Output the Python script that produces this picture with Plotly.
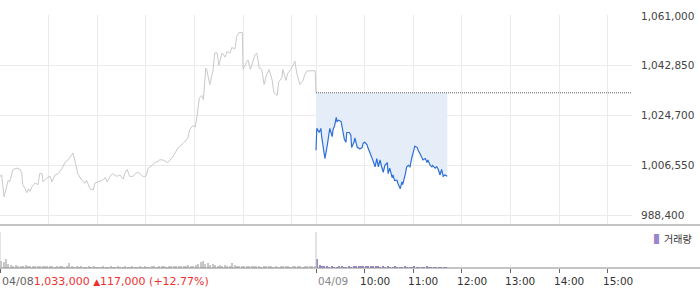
import plotly.graph_objects as go

# ---------------- data ----------------
prev_close = 1033000

day1_times = ["09:00","09:02","09:05","09:09","09:10","09:12","09:15","09:16","09:21","09:25",
              "09:27","09:28","09:31","09:33","09:35","09:37","09:39","09:43","09:47","09:49",
              "09:52","09:53","09:58","10:02","10:04","10:08","10:12","10:17","10:20","10:24",
              "10:29","10:30","10:33","10:36","10:41","10:45","10:47","10:51","10:55","10:57",
              "11:01","11:06","11:10","11:12","11:16","11:19","11:24","11:28","11:32","11:34",
              "11:37","11:40","11:44","11:49","11:53","11:56","12:00","12:03","12:08","12:11",
              "12:15","12:17","12:21","12:27","12:33","12:38","12:40","12:46","12:52","12:54",
              "12:58","13:01","13:03","13:06","13:09","13:11","13:14","13:15","13:19","13:23",
              "13:25","13:28","13:30","13:34","13:38","13:40","13:44","13:46","13:50","13:52",
              "13:55","13:59","14:00","14:04","14:06","14:09","14:12","14:15","14:17","14:20",
              "14:23","14:26","14:29","14:32","14:36","14:38","14:42","14:44","14:48","14:49",
              "14:53","14:55","15:00","15:04","15:06","15:10","15:14","15:16","15:19","15:29",
              "15:30"]
day1_prices = [1002500,1003000,995000,1000000,1001000,1000500,1003500,1005000,1005500,1005000,
               1003500,999500,998000,996500,998000,997000,998500,1000000,999500,1003500,
               1003500,1000500,1002000,1002500,1000500,1003000,1003500,1005500,1007500,1008500,
               1010500,1011000,1007500,1003500,1001000,1000000,1001000,998000,997500,1000000,
               1000500,1001000,1002000,1000500,1002500,1003500,1002500,1003000,1001500,1003500,
               1005000,1002500,1002500,1004000,1003500,1002500,1002500,1005500,1006500,1007500,
               1008000,1008500,1008500,1007500,1009500,1012000,1013000,1014500,1016500,1019500,
               1021000,1020500,1024000,1031000,1032000,1030500,1042000,1041500,1036000,1041500,
               1047500,1047500,1043000,1047500,1046000,1048000,1047500,1049500,1049000,1053500,
               1055000,1055000,1041500,1044000,1045000,1041500,1044000,1047000,1047500,1042000,
               1041500,1036000,1039500,1041500,1037500,1033000,1032000,1037000,1038500,1041500,
               1037500,1040000,1042000,1044500,1040500,1036000,1037500,1039500,1041000,1041000,
               1033000]

day2_times = ["09:00","09:01","09:04","09:06","09:07","09:10","09:11","09:14","09:15","09:17",
              "09:20","09:21","09:23","09:25","09:26","09:28","09:31","09:33","09:35","09:37",
              "09:38","09:41","09:43","09:44","09:47","09:48","09:51","09:52","09:54","09:57",
              "09:58","10:00","10:03","10:04","10:07","10:09","10:10","10:13","10:15","10:17",
              "10:19","10:21","10:23","10:25","10:28","10:29","10:31","10:34","10:35","10:37",
              "10:40","10:41","10:44","10:46","10:47","10:50","10:52","10:54","10:56","10:58",
              "11:00","11:02","11:05","11:06","11:08","11:11","11:12","11:15","11:17","11:18",
              "11:21","11:23","11:24","11:27","11:29","11:31","11:33","11:35","11:37","11:39",
              "11:42"]
day2_prices = [1012000,1020000,1018500,1020000,1017000,1009500,1009000,1014000,1016000,1020000,
               1017000,1019500,1021000,1024000,1022500,1023000,1022500,1019500,1016000,1015000,
               1018500,1018500,1017500,1013000,1015000,1016500,1013000,1013000,1012500,1013000,
               1014500,1015000,1014000,1013000,1011000,1009500,1008500,1006000,1009000,1006000,
               1008500,1006000,1004000,1006500,1007500,1003500,1005500,1002000,1003000,1001000,
               1001000,1000000,998000,1000500,999500,1003000,1006000,1006500,1006000,1009000,
               1011000,1013500,1013000,1012000,1011000,1009500,1008500,1009000,1007500,1008500,
               1006500,1006000,1006500,1005500,1006000,1005000,1003000,1005000,1002500,1003000,
               1002500]

# volume per 3-minute bin
day1_volume = [7000,6000,9000,4000,
               3000,2000,3000,2000,2500,2000,3000,2000,1500,2000,2500,2000,1500,2000,1500,2000,1500,
               1500,1000,1500,2000,1500,1000,1500,5000,1500,1000,1500,1000,1500,1000,1000,1500,1000,1500,1000,1000,
               1000,1500,1000,1000,1500,1000,1000,1500,1000,1000,1500,1000,1000,1500,1000,1000,1500,1000,1500,1000,
               1000,1500,1500,1000,1500,2000,1500,1000,1500,2000,1500,2000,1500,2000,2500,2000,3000,2500,2000,3000,
               4000,6000,7000,4000,5000,3000,4000,3000,2500,3000,
               2500,3000,2000,2500,5000,3000,2000,2500,2000,2000,
               1500,2000,1500,1500,2000,1500,1000,1500,1500,2000,1500,1000,1500,1000,1500,1500,2000,1500,1000,1500,
               2000,1500,1500,1000,1500,1500,2000,1500,2500]
day2_volume = [9000,3000,2000,1500,1500,1000,1500,1000,1000,1500,1500,1000,1000,1500,1000,1500,2000,1500,
               2500,2000,1500,2500,2000,1500,2000,1500,1000,1500,1000,1500,1000,1000,1500,1000,1000,1000,
               1500,1000,1000,1000,1500,1000,1000,1000,1000,1500,1000,1000,1000,1000,1000,1000,1000,1000]

price_ticks = [988400, 1006550, 1024700, 1042850, 1061000]
day_labels = ["04/08", "04/09"]
hour_labels = ["10:00", "11:00", "12:00", "13:00", "14:00", "15:00"]
summary_price = "1,033,000"
summary_change = "117,000 (+12.77%)"

SESSION = 390  # minutes 09:00 - 15:30


def to_min(t, day):
    h, m = t.split(":")
    return day * SESSION + (int(h) - 9) * 60 + int(m)


x1 = [to_min(t, 0) for t in day1_times]
x2 = [to_min(t, 1) for t in day2_times]
v1x = [i * 3 + 1.5 for i in range(len(day1_volume))]
v2x = [SESSION + i * 3 + 1.5 for i in range(len(day2_volume))]

FONT = "DejaVu Sans"
GRID = "#ebebeb"

fig = go.Figure()
fig.add_trace(go.Scatter(x=x1, y=day1_prices, mode="lines",
                         line=dict(color="#c9c9ce", width=1), hoverinfo="skip"))
fig.add_trace(go.Scatter(x=[x2[0], x2[-1]], y=[prev_close, prev_close], mode="lines",
                         line=dict(width=0, color="rgba(0,0,0,0)"), hoverinfo="skip"))
fig.add_trace(go.Scatter(x=x2, y=day2_prices, mode="lines", fill="tonexty",
                         fillcolor="#e5edf9", line=dict(color="#2e6fd8", width=1.2),
                         hoverinfo="skip"))
fig.add_trace(go.Bar(x=v1x, y=day1_volume, width=1.3, marker=dict(color="#c8c8c8", line=dict(width=0)),
                     xaxis="x2", yaxis="y2", hoverinfo="skip"))
fig.add_trace(go.Bar(x=v2x, y=day2_volume, width=1.3, marker=dict(color="#9a86cc", line=dict(width=0)),
                     xaxis="x2", yaxis="y2", hoverinfo="skip"))

W, H = 700, 289
ml, mr, mt, mb = 0, 68, 15, 21
ph = H - mt - mb
pw = W - ml - mr
px_per_val = 199 / (1061000 - 988400)
top_val = 1061000 + 1 / px_per_val
main_bottom_px = 225
main_bot_val = top_val - (main_bottom_px - mt) / px_per_val

grid_x = [0, 60, 120, 180, 240, 300, 360, SESSION] + [SESSION + 60 * k for k in range(1, 7)]

fig.update_layout(
    width=W, height=H, margin=dict(l=ml, r=mr, t=mt, b=mb),
    paper_bgcolor="white", plot_bgcolor="white", showlegend=False, bargap=0,
    xaxis=dict(range=[0, 2 * SESSION], domain=[0, 1], anchor="y", tickvals=grid_x,
               showticklabels=False, showgrid=True, gridcolor=GRID, gridwidth=1,
               zeroline=False, showline=False, ticks=""),
    yaxis=dict(range=[main_bot_val, top_val], domain=[(268 - 225) / ph, 1], side="right",
               tickvals=price_ticks, tickformat=",d", showgrid=True, gridcolor=GRID,
               zeroline=False, showline=False, ticks="", ticklabelstandoff=8,
               tickfont=dict(family=FONT, size=10.5, color="#444")),
    xaxis2=dict(range=[0, 2 * SESSION], domain=[0, 1], anchor="y2", matches="x",
                tickvals=[0, SESSION] + [SESSION + 60 * k for k in range(1, 7)],
                showticklabels=False, showgrid=False, zeroline=False, showline=False,
                ticks="outside", ticklen=4, tickcolor="#666", tickwidth=1),
    yaxis2=dict(range=[0, 36000], domain=[0, (268 - 232) / ph], showgrid=False,
                zeroline=False, showline=False, showticklabels=False, ticks=""),
)

shapes = []
# dark separators spanning the full width
for ypx in (225, 268):
    yp = (H - mb - ypx) / ph
    shapes.append(dict(type="line", xref="paper", yref="paper", x0=0, x1=W / pw, y0=yp, y1=yp,
                       line=dict(color="#8a8a8a", width=1)))
# day separators in the volume panel
for xv in (0, SESSION):
    shapes.append(dict(type="line", xref="x2", yref="y2 domain", x0=xv, x1=xv, y0=0, y1=1,
                       line=dict(color="#c8c8c8", width=1)))
# previous close dotted line
shapes.append(dict(type="line", xref="x", yref="y", x0=SESSION, x1=2 * SESSION,
                   y0=prev_close, y1=prev_close, line=dict(color="#666", width=1, dash="1px,1px")))
fig.update_layout(shapes=shapes)

label_y = -(281 - (H - mb)) / ph
ann = []
ann.append(dict(xref="paper", yref="paper", x=0, y=label_y, xanchor="left", yanchor="middle",
                showarrow=False,
                text=(day_labels[0] + '<span style="color:#f03030">' + summary_price +
                      ' <span style="font-size:9px">▲</span>' + summary_change + '</span>'),
                font=dict(family=FONT, size=11, color="#666")))
ann.append(dict(xref="x2", yref="paper", x=SESSION, y=label_y, xanchor="left", yanchor="middle",
                showarrow=False, text=day_labels[1], xshift=0,
                font=dict(family=FONT, size=10.5, color="#888")))
for k, lab in enumerate(hour_labels, start=1):
    ann.append(dict(xref="x2", yref="paper", x=SESSION + 60 * k, y=label_y, xanchor="center",
                    yanchor="middle", showarrow=False, text=lab, xshift=10,
                    font=dict(family=FONT, size=10.5, color="#333")))
# volume legend
ann.append(dict(xref="paper", yref="paper", x=(652 - ml) / pw, y=(H - mb - 238) / ph,
                xanchor="left", yanchor="middle", showarrow=False,
                text='<span style="color:#9a86cc">▌</span>거래량',
                font=dict(family="Noto Sans CJK KR", size=10, color="#333")))
fig.update_layout(annotations=ann)

fig.write_html("out.html")
